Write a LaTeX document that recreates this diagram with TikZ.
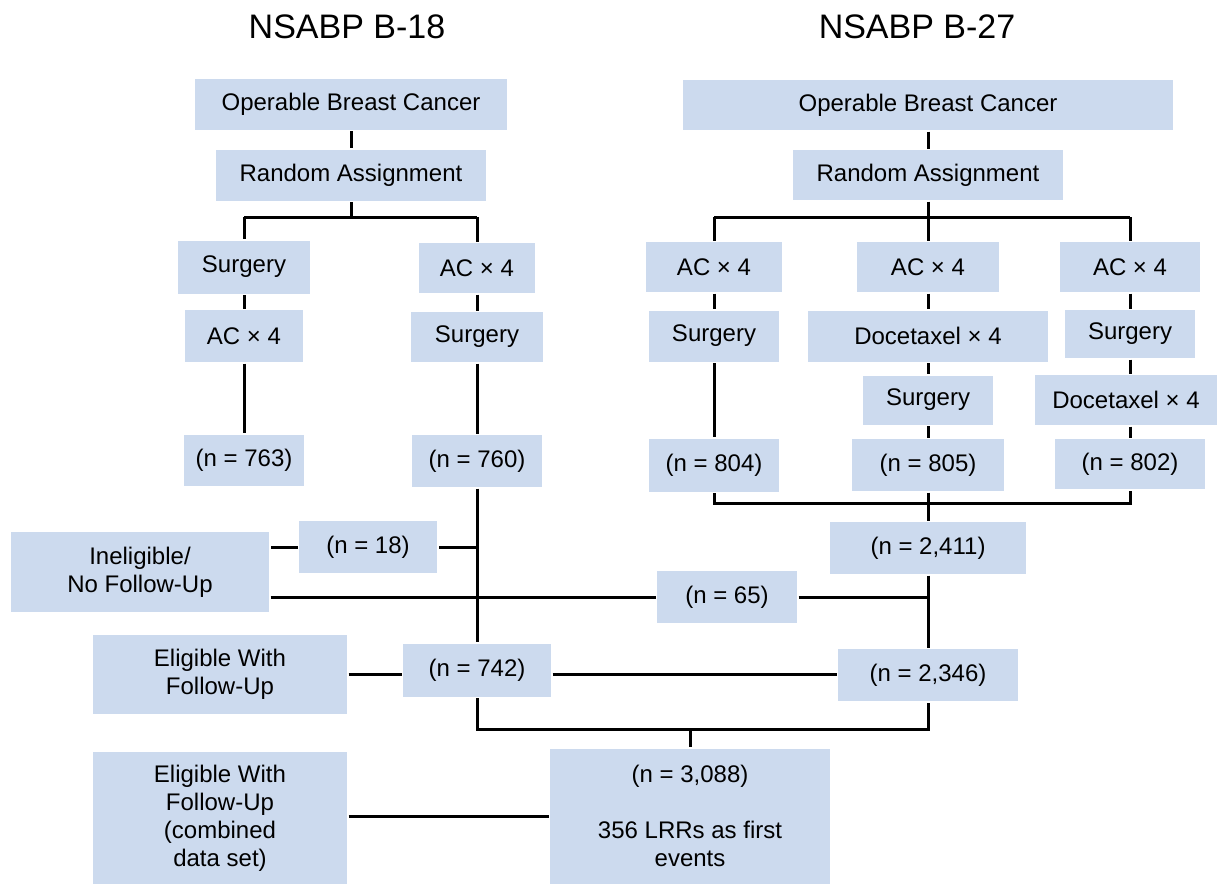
\documentclass[tikz,border=0pt]{standalone}
\usepackage{fontspec}
\setmainfont{Liberation Sans}
\definecolor{boxblue}{HTML}{CCDAEE}

\begin{document}
\begin{tikzpicture}[x=0.5pt, y=-0.5pt, line width=1.5pt,
  box/.style={fill=boxblue, inner sep=0pt, align=center,
              font=\fontsize{12}{14}\selectfont},
  trialtitle/.style={font=\fontsize{17}{20}\selectfont}]

\useasboundingbox (0,0) rectangle (1218,884);

% ---------------------------
% NSABP B-18
% ---------------------------
\node[trialtitle] (t18) at (347,27) {NSABP B-18};
\node[box, minimum width=156pt, minimum height=25.5pt] (op18)   at (351,104) {Operable Breast Cancer};
\node[box, minimum width=135pt, minimum height=25.5pt] (rand18) at (351,175) {Random Assignment};

\coordinate (sp18)  at (351,217);
\coordinate (sp18l) at (244,217);
\coordinate (sp18r) at (477,217);

\node[box, minimum width=66pt, minimum height=26.5pt] (surg18a) at (244,267) {Surgery};
\node[box, minimum width=59pt, minimum height=26pt]   (ac18a)   at (244,336) {AC × 4};
\node[box, minimum width=60pt, minimum height=25.5pt] (n763)    at (244,460) {(n = 763)};

\node[box, minimum width=58pt, minimum height=25pt]   (ac18b)   at (477,268) {AC × 4};
\node[box, minimum width=66pt, minimum height=25pt]   (surg18b) at (477,337) {Surgery};
\node[box, minimum width=65pt, minimum height=26pt]   (n760)    at (477,461) {(n = 760)};

\draw (op18) -- (rand18);
\draw (rand18) -- (sp18);
\draw (sp18l) -- (sp18r);
\draw (sp18l) -- (surg18a);
\draw (surg18a) -- (ac18a);
\draw (ac18a) -- (n763);
\draw (sp18r) -- (ac18b);
\draw (ac18b) -- (surg18b);
\draw (surg18b) -- (n760);

% ---------------------------
% NSABP B-27
% ---------------------------
\node[trialtitle] (t27) at (917,27) {NSABP B-27};
\node[box, minimum width=245pt, minimum height=25pt] (op27)   at (928,105) {Operable Breast Cancer};
\node[box, minimum width=135pt, minimum height=25pt] (rand27) at (928,175) {Random Assignment};

\coordinate (sp27)  at (928,217);
\coordinate (sp27l) at (714,217);
\coordinate (sp27r) at (1130,217);

\node[box, minimum width=68pt, minimum height=25pt]   (ac27a)   at (714,267) {AC × 4};
\node[box, minimum width=65pt, minimum height=25.5pt] (surg27a) at (714,336) {Surgery};
\node[box, minimum width=65pt, minimum height=26.5pt] (n804)    at (714,465) {(n = 804)};

\node[box, minimum width=71pt, minimum height=25pt]   (ac27b)   at (928,267) {AC × 4};
\node[box, minimum width=120pt, minimum height=25.5pt] (doc27b) at (928,336) {Docetaxel × 4};
\node[box, minimum width=65pt, minimum height=24.5pt] (surg27b) at (928,400) {Surgery};
\node[box, minimum width=76pt, minimum height=26pt]   (n805)    at (928,465) {(n = 805)};

\node[box, minimum width=70pt, minimum height=25pt]   (ac27c)   at (1130,267) {AC × 4};
\node[box, minimum width=65pt, minimum height=24pt]   (surg27c) at (1130,334) {Surgery};
\node[box, minimum width=91pt, minimum height=25pt]   (doc27c)  at (1126,400) {Docetaxel × 4};
\node[box, minimum width=75pt, minimum height=25pt]   (n802)    at (1130,464) {(n = 802)};

\draw (op27) -- (rand27);
\draw (rand27) -- (sp27);
\draw (sp27l) -- (sp27r);
\draw (sp27l) -- (ac27a);
\draw (ac27a) -- (surg27a);
\draw (surg27a) -- (n804);
\draw (sp27) -- (ac27b);
\draw (ac27b) -- (doc27b);
\draw (doc27b) -- (surg27b);
\draw (surg27b) -- (n805);
\draw (sp27r) -- (ac27c);
\draw (ac27c) -- (surg27c);
\draw (surg27c) -- (surg27c |- doc27c.north);
\draw (surg27c |- doc27c.south) -- (n802);

\coordinate (bt27l) at (714,503);
\coordinate (bt27r) at (1130,503);
\draw (n804) -- (bt27l) -- (bt27r) -- (n802);

% ---------------------------
% follow-up and combined set
% ---------------------------
\node[box, minimum width=98pt, minimum height=26pt]   (n2411) at (928,548) {(n = 2,411)};
\node[box, minimum width=69pt, minimum height=26pt]   (n18)   at (368,547) {(n = 18)};
\node[box, minimum width=129pt, minimum height=40pt]  (inel)  at (140,572) {Ineligible/\\No Follow-Up};
\node[box, minimum width=70pt, minimum height=26pt]   (n65)   at (727,597) {(n = 65)};
\node[box, minimum width=127pt, minimum height=39.5pt] (elig18) at (220,674) {Eligible With\\Follow-Up};
\node[box, minimum width=74pt, minimum height=26.5pt] (n742)  at (477,670) {(n = 742)};
\node[box, minimum width=90pt, minimum height=26pt]   (n2346) at (928,675) {(n = 2,346)};
\node[box, minimum width=127pt, minimum height=66pt]  (eligc) at (220,818) {Eligible With\\Follow-Up\\(combined\\data set)};
\node[box, minimum width=140pt, minimum height=67.5pt] (comb) at (690,816) {(n = 3,088)\\[14pt]356 LRRs as first\\events};

\coordinate (j18)   at (477,547);
\coordinate (j65)   at (928,597);
\coordinate (bot18) at (477,729);
\coordinate (bot27) at (928,729);
\coordinate (botm)  at (690,729);

\draw (n805) -- (n2411);
\draw (n2411) -- (n2346);
\draw (j18) -- (n18);
\draw (n18) -- (n18 -| inel.east);
\draw (inel.east |- n65) -- (n65);
\draw (n65) -- (j65);
\draw (n760) -- (n742);
\draw (elig18.east) -- (elig18.east -| n742.west);
\draw (n742.east |- elig18.east) -- (n2346.west |- elig18.east);
\draw (n742) -- (bot18) -- (bot27) -- (n2346);
\draw (botm) -- (comb);
\draw (eligc.east |- comb.west) -- (comb.west);

\end{tikzpicture}
\end{document}
